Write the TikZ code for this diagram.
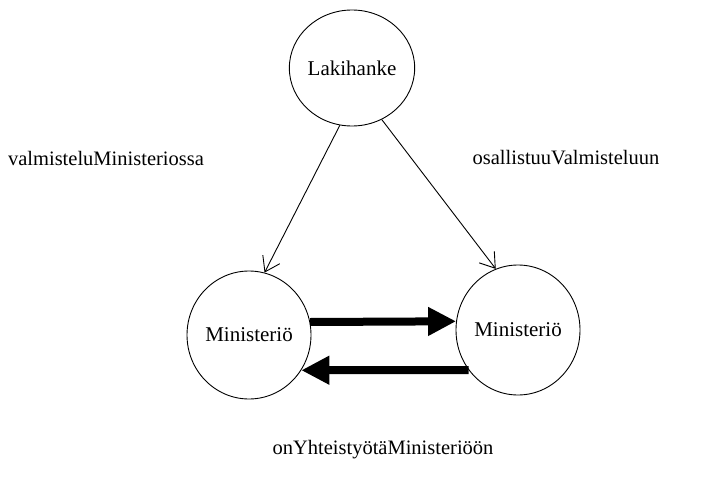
\documentclass[tikz,border=0pt]{standalone}
\usepackage{fontspec}
\setmainfont{Liberation Serif}
\usetikzlibrary{arrows.meta,shapes.geometric}
\begin{document}
\begin{tikzpicture}[x=1pt, y=-1pt,
  luokka/.style={ellipse, draw, line width=0.9pt, inner sep=0pt, font=\fontsize{21}{24}\selectfont},
  nimi/.style={font=\fontsize{20.5}{24}\selectfont},
  ohut/.style={line width=0.9pt, -{Straight Barb[length=14pt, width=19pt]}},
  paksu/.style={line width=8pt, -{Triangle[length=28pt, width=27pt]}}]
\useasboundingbox (0,0) rectangle (728,495);
\node[luokka, minimum width=122pt, minimum height=116pt] (lak) at (352,68){Lakihanke};
\node[luokka, minimum width=124pt, minimum height=128pt] (min1) at (249,335){Ministeriö};
\node[luokka, minimum width=124pt, minimum height=130pt] (min2) at (518,330){Ministeriö};
\node[nimi] (valm) at (106,158){valmisteluMinisteriossa};
\node[nimi] (osal) at (566,158){osallistuuValmisteluun};
\node[nimi] (yht) at (383,450){onYhteistyötäMinisteriöön};
\draw[ohut](lak.258) -- (min1.76);
\draw[ohut](lak.300) -- (min2.110);
\draw[paksu](min1.12) -- (min2.172);
\draw[paksu](min2.219) -- (min1.326);
\end{tikzpicture}
\end{document}
